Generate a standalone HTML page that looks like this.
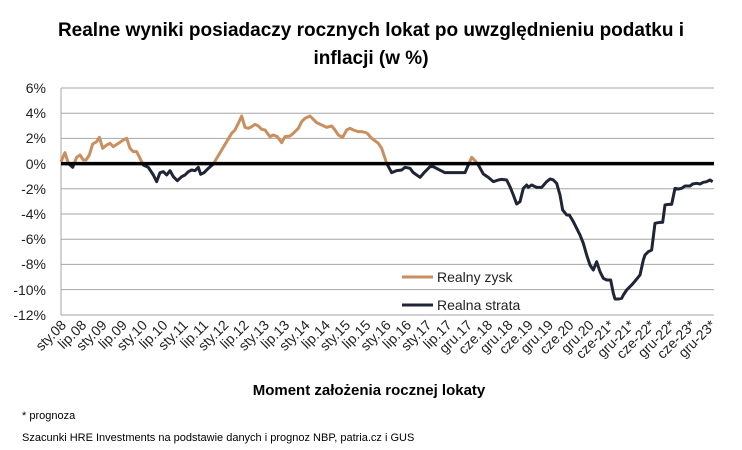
<!DOCTYPE html>
<html><head><meta charset="utf-8"><style>
body{margin:0;background:#fff}
svg{display:block;font-family:"Liberation Sans",sans-serif}
</style></head><body>
<svg width="742" height="450" viewBox="0 0 742 450">
<text x="371" y="36" text-anchor="middle" font-size="19" font-weight="bold" fill="#000">Realne wyniki posiadaczy rocznych lokat po uwzględnieniu podatku i</text>
<text x="371" y="64" text-anchor="middle" font-size="19" font-weight="bold" fill="#000">inflacji (w %)</text>
<g stroke="#a6a6a6" stroke-width="1">
<line x1="61" y1="88" x2="714" y2="88"/><line x1="61" y1="113.2" x2="714" y2="113.2"/><line x1="61" y1="138.4" x2="714" y2="138.4"/>
<line x1="61" y1="188.8" x2="714" y2="188.8"/><line x1="61" y1="214" x2="714" y2="214"/><line x1="61" y1="239.2" x2="714" y2="239.2"/>
<line x1="61" y1="264.4" x2="714" y2="264.4"/><line x1="61" y1="289.6" x2="714" y2="289.6"/><line x1="61" y1="315" x2="714" y2="315"/>
<line x1="61" y1="88" x2="61" y2="315"/>
</g>
<g font-size="14" text-anchor="end" fill="#222">
<text x="46" y="93">6%</text><text x="46" y="118">4%</text><text x="46" y="143">2%</text><text x="46" y="169">0%</text>
<text x="46" y="194">-2%</text><text x="46" y="219">-4%</text><text x="46" y="244">-6%</text><text x="46" y="269">-8%</text>
<text x="46" y="295">-10%</text><text x="46" y="320">-12%</text>
</g>
<defs>
<clipPath id="up"><rect x="0" y="0" width="742" height="164"/></clipPath>
<clipPath id="dn"><rect x="0" y="164" width="742" height="300"/></clipPath>
<g id="series" fill="none" stroke-width="9" stroke-linejoin="round">
<polyline transform="translate(0,80) scale(0.33333)" points="183,245 195,218 205,250 218,262 230,232 240,225 250,240 258,240 268,225 278,192 290,185 298,172 308,205 320,195 330,190 340,200 355,190 370,180 380,175 390,205 400,215 410,215 420,235 430,255 445,262 460,285 470,305 480,278 490,275 500,285 510,272 520,290 532,302 545,290 555,285 565,275 575,270 585,272 595,262 602,283 612,278 625,265 640,252 650,235 665,210 680,185 695,160 705,150 715,130 725,108 735,142 745,145 755,140 765,133 775,138 785,148 795,150 810,170 820,165 832,170 845,188 855,170 870,168 880,160 895,145 905,125 915,115 930,108 940,118 950,128 965,135 980,142 995,138 1005,150 1015,165 1028,172 1040,150 1050,145 1060,150 1075,155 1085,155 1100,158"/>
<polyline transform="translate(360,80) scale(0.33333)" points="20,158 35,175 55,190 65,205 75,235 80,250 95,278 110,272 125,270 135,262 150,265 160,278 180,292 195,275 210,260 220,260 235,268 255,278 280,278 315,278 325,255 335,232 345,242 355,255 370,282 385,292 400,305 415,300 425,298 440,300 450,320 460,345 470,372 480,365 490,325 500,315 505,322 515,315 530,322 545,322 560,305 570,297 580,300 590,310 600,345 608,390 620,405 628,405 640,425 650,445 660,465 670,490 680,525 690,555 700,570 710,545 720,575 730,595 740,600 752,600 760,640 765,657 775,657 785,655 790,645 800,630 815,615 828,600 840,585 850,540 855,525 865,515 875,510 880,470 885,430 900,427 908,427 915,375 925,373 935,373 945,325 955,327 965,325 975,318 990,318 998,312 1010,310 1020,312 1030,307 1040,305 1050,300 1058,305"/>
</g>
</defs>
<g clip-path="url(#up)" stroke="#c98f5e"><use href="#series"/></g>
<g clip-path="url(#dn)" stroke="#1f2536"><use href="#series"/></g>
<line x1="61" y1="163.6" x2="714" y2="163.6" stroke="#000" stroke-width="3.5"/>
<line x1="402" y1="277" x2="433" y2="277" stroke="#c98f5e" stroke-width="3"/>
<text x="437" y="282" font-size="14" fill="#222">Realny zysk</text>
<line x1="402" y1="305" x2="433" y2="305" stroke="#1f2536" stroke-width="3"/>
<text x="437" y="310" font-size="14" fill="#222">Realna strata</text>
<g font-size="14" text-anchor="end" fill="#222" id="xl"></g>
<text x="369" y="395" text-anchor="middle" font-size="15" font-weight="bold" fill="#000">Moment założenia rocznej lokaty</text>
<text x="22" y="419" font-size="11" fill="#000">* prognoza</text>
<text x="22" y="441" font-size="11" fill="#000">Szacunki HRE Investments na podstawie danych i prognoz NBP,  patria.cz  i GUS</text>
</svg>
<script>
var L=["sty.08","lip.08","sty.09","lip.09","sty.10","lip.10","sty.11","lip.11","sty.12","lip.12","sty.13","lip.13","sty.14","lip.14","sty.15","lip.15","sty.16","lip.16","sty.17","lip.17","gru.17","cze.18","gru.18","cze.19","gru.19","cze.20","gru.20","cze-21*","gru-21*","cze-22*","gru-22*","cze-23*","gru-23*"];
var g=document.getElementById("xl"),s="";
for(var i=0;i<L.length;i++){var x=67+i*20.3,y=326;s+='<text x="'+x+'" y="'+y+'" transform="rotate(-45 '+x+' '+y+')">'+L[i]+'</text>';}
g.innerHTML=s;
</script>
</body></html>
